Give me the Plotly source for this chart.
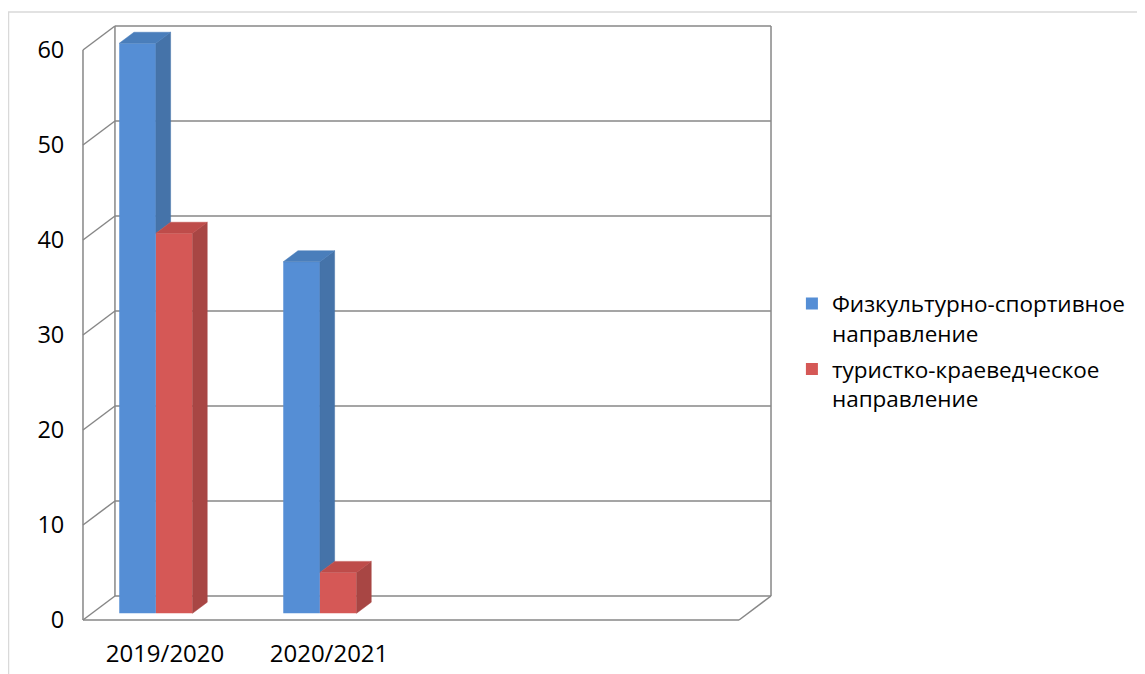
import plotly.graph_objects as go

# ---------------- data ----------------
categories = ["2019/2020", "2020/2021"]
series_names = [
    "Физкультурно-спортивное<br>направление",
    "туристко-краеведческое<br>направление",
]
sport_values = [60, 37]
tourism_values = [40, 4.3]
y_ticks = [0, 10, 20, 30, 40, 50, 60]

series_values = [sport_values, tourism_values]

# ---------------- styling / geometry ----------------
N_SLOTS = 4                 # category slots on the floor (last two empty)
PX_CAT = 164.25             # px per category slot
PX_VAL = 9.5                # px per value unit
DX = 32 / PX_CAT            # oblique depth offset (x, in category units)
DY = 24 / PX_VAL            # oblique depth offset (y, in value units)
F0, F1 = 0.28, 0.74         # bar depth (front / back) as fraction of floor depth
BAR_W = 36.7 / PX_CAT
BAR_START = 0.1665
PAD_X = 4 / PX_CAT
PAD_Y = 4 / PX_VAL
YMAX = y_ticks[-1]

W, H = 1137, 666
ML, MR, MT, MB = 71, 370, 14, 50
PW, PH = W - ML - MR, H - MT - MB

front_colors = ["#558ED5", "#D55856"]
side_colors = ["#4573A9", "#A84644"]
top_colors = ["#4A7EBB", "#BE4C4A"]
GRID = "#878787"
FONT = "Open Sans"


def proj(xf, v, f):
    """oblique projection: front-plane x, value, depth fraction -> data coords"""
    return xf + f * DX, v - (1 - f) * DY


fig = go.Figure()

# front faces (bars)
for j, (name, vals) in enumerate(zip(series_names, series_values)):
    xs = [i + BAR_START + (j + 0.5) * BAR_W + F0 * DX for i in range(len(vals))]
    base = proj(0, 0, F0)[1]
    fig.add_trace(go.Bar(
        x=xs, y=vals, base=[base] * len(vals), width=BAR_W,
        name=name, legendgroup=f"g{j}",
        marker=dict(color=front_colors[j], line=dict(width=0)),
        hoverinfo="skip",
    ))

# side and top faces
for j, vals in enumerate(series_values):
    side_x, side_y, top_x, top_y = [], [], [], []
    for i, v in enumerate(vals):
        xl = i + BAR_START + j * BAR_W
        xr = xl + BAR_W
        lower = 0
        if j + 1 < len(series_values):
            lower = min(max(0, series_values[j + 1][i]), v)
        pts = [proj(xr, lower, F0), proj(xr, lower, F1), proj(xr, v, F1), proj(xr, v, F0), proj(xr, lower, F0)]
        side_x += [p[0] for p in pts] + [None]
        side_y += [p[1] for p in pts] + [None]
        pts = [proj(xl, v, F0), proj(xr, v, F0), proj(xr, v, F1), proj(xl, v, F1), proj(xl, v, F0)]
        top_x += [p[0] for p in pts] + [None]
        top_y += [p[1] for p in pts] + [None]
    fig.add_trace(go.Scatter(x=side_x, y=side_y, mode="lines", fill="toself",
                             fillcolor=side_colors[j], line=dict(width=0.5, color=side_colors[j]),
                             showlegend=False, hoverinfo="skip"))
    fig.add_trace(go.Scatter(x=top_x, y=top_y, mode="lines", fill="toself",
                             fillcolor=top_colors[j], line=dict(width=0.5, color=top_colors[j]),
                             showlegend=False, hoverinfo="skip"))

# walls and floor (below traces)
shapes = []


def seg(a, b):
    shapes.append(dict(type="line", xref="x", yref="y", x0=a[0], y0=a[1], x1=b[0], y1=b[1],
                       line=dict(color=GRID, width=1.5), layer="below"))


for v in y_ticks:
    seg(proj(0, v, 1), proj(N_SLOTS, v, 1))      # back wall gridline
    seg(proj(0, v, 0), proj(0, v, 1))            # side wall diagonal
seg(proj(0, 0, 1), proj(0, YMAX, 1))
seg(proj(N_SLOTS, 0, 1), proj(N_SLOTS, YMAX, 1))
seg(proj(0, 0, 0), proj(0, YMAX, 0))
seg(proj(0, 0, 0), proj(N_SLOTS, 0, 0))
seg(proj(N_SLOTS, 0, 0), proj(N_SLOTS, 0, 1))

# chart frame
shapes.append(dict(type="rect", xref="paper", yref="paper",
                   x0=(0.5 - ML) / PW, x1=2, y0=-1, y1=(PH + MT - 4) / PH,
                   line=dict(color="#D9D9D9", width=1.5), layer="below"))

fig.update_layout(
    template="none",
    width=W, height=H,
    margin=dict(l=ML, r=MR, t=MT, b=MB, autoexpand=False),
    paper_bgcolor="white", plot_bgcolor="white",
    barmode="overlay",
    shapes=shapes,
    showlegend=True,
    legend=dict(x=1.0243, y=0.4535, xanchor="left", yanchor="middle",
                font=dict(family=FONT, size=22.5, color="black"),
                valign="top", bgcolor="rgba(0,0,0,0)",
                traceorder="grouped", tracegroupgap=4),
    xaxis=dict(range=[-PAD_X, N_SLOTS + DX + PAD_X], showgrid=False, zeroline=False,
               showline=False, automargin=False,
               tickvals=[i + 0.5 for i in range(len(categories))],
               ticktext=categories, ticks="outside", ticklen=8, tickcolor="rgba(0,0,0,0)",
               tickfont=dict(family=FONT, size=24, color="black")),
    yaxis=dict(range=[-DY - PAD_Y, YMAX + PAD_Y], showgrid=False, zeroline=False,
               showline=False, automargin=False, tickvals=[v - DY for v in y_ticks],
               ticktext=[str(v) for v in y_ticks], ticks="outside", ticklen=9,
               tickcolor="rgba(0,0,0,0)",
               tickfont=dict(family=FONT, size=23.5, color="black")),
)

fig.write_html("out.html")
